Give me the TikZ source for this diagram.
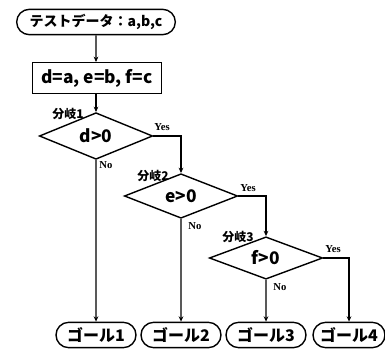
\documentclass[tikz,border=0pt]{standalone}
\usepackage{fontspec}
\setmainfont{Noto Sans CJK JP}
\newfontfamily\yesno{Liberation Serif}
\usetikzlibrary{shapes.geometric, shapes.misc, arrows.meta}

\begin{document}
\begin{tikzpicture}[x=0.75pt, y=-0.75pt, line width=1.05pt, >={Stealth[length=4pt, width=3.5pt]},
    term/.style={rounded rectangle, draw=black, minimum height=19pt, inner sep=0pt, font=\bfseries\fontsize{10.5}{12}\selectfont},
    goal/.style={term, font=\bfseries\fontsize{12}{14}\selectfont},
    proc/.style={rectangle, draw=black, minimum width=97pt, minimum height=23pt, font=\bfseries\fontsize{13}{15}\selectfont},
    cond/.style={diamond, draw=black, minimum width=85pt, minimum height=24pt, inner sep=0pt, font=\bfseries\fontsize{13}{15}\selectfont},
    lbl/.style={font=\bfseries\fontsize{9}{11}\selectfont},
    yn/.style={font=\yesno\bfseries\fontsize{8}{9}\selectfont}]
    \useasboundingbox (0, 0) rectangle (385, 349);

    \node[term, minimum width=119pt] (start) at (96, 22) {テストデータ：a,b,c};
    \node[proc] (init) at (97, 78) {d=a, e=b, f=c};
    \node[cond] (b1) at (96, 136) {d>0};
    \node[cond] (b2) at (181, 196) {e>0};
    \node[cond] (b3) at (266, 258) {f>0};
    \node[goal, minimum width=60pt] (g1) at (96, 335) {ゴール1};
    \node[goal, minimum width=60pt] (g2) at (181, 335) {ゴール2};
    \node[goal, minimum width=60pt] (g3) at (266, 335) {ゴール3};
    \node[goal, minimum width=54pt] (g4) at (349, 335) {ゴール4};

    \node[lbl] (l1) at (68, 114) {分岐1};
    \node[lbl] (l2) at (153, 176) {分岐2};
    \node[lbl] (l3) at (238, 237) {分岐3};
    \node[yn] (y1) at (162, 127) {Yes};
    \node[yn] (y2) at (248, 188) {Yes};
    \node[yn] (y3) at (333, 249) {Yes};
    \node[yn] (n1) at (106, 165) {No};
    \node[yn] (n2) at (195, 226) {No};
    \node[yn] (n3) at (280, 287) {No};

    \draw[->] (start) -- (b1.north |- init.north);
    \draw[->] (init.south -| b1.north) -- (b1);
    \draw[->] (b1.east) -| (b2.north);
    \draw[->] (b2.east) -| (b3.north);
    \draw[->] (b3.east) -| (g4.north);
    \draw[->] (b1.south) -- (g1);
    \draw[->] (b2.south) -- (g2);
    \draw[->] (b3.south) -- (g3);
\end{tikzpicture}
\end{document}
